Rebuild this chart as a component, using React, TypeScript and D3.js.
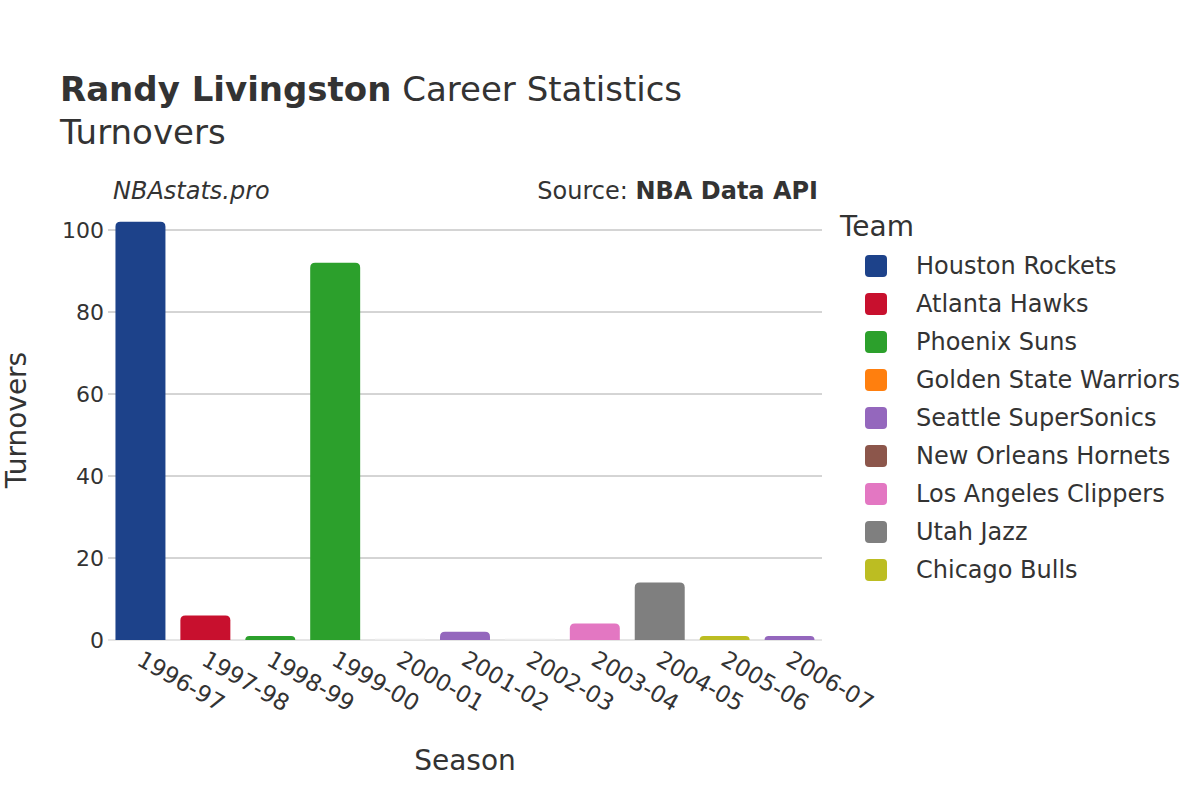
import React from "react";
import * as d3 from "d3";

const seasons = ["1996-97","1997-98","1998-99","1999-00","2000-01","2001-02","2002-03","2003-04","2004-05","2005-06","2006-07"];
const values = [102, 6, 1, 92, 0, 2, 0, 4, 14, 1, 1];
const seasonTeams = ["Houston Rockets","Atlanta Hawks","Phoenix Suns","Phoenix Suns","Golden State Warriors","Seattle SuperSonics","New Orleans Hornets","Los Angeles Clippers","Utah Jazz","Chicago Bulls","Seattle SuperSonics"];
const teams = ["Houston Rockets","Atlanta Hawks","Phoenix Suns","Golden State Warriors","Seattle SuperSonics","New Orleans Hornets","Los Angeles Clippers","Utah Jazz","Chicago Bulls"];
const teamColors = ["#1d428a","#c8102e","#2ca02c","#ff7f0e","#9467bd","#8c564b","#e377c2","#7f7f7f","#bcbd22"];
const yTicks = [0, 20, 40, 60, 80, 100];

const FONT = "'DejaVu Sans', sans-serif";

function barPath(x: number, y: number, w: number, h: number, r: number) {
  const rr = Math.min(r, h, w / 2);
  if (h <= 0) return "";
  return `M${x},${y + h}V${y + rr}Q${x},${y} ${x + rr},${y}H${x + w - rr}Q${x + w},${y} ${x + w},${y + rr}V${y + h}Z`;
}

export default function App() {
  const left = 108, right = 822, top = 230, bottom = 640;
  const x = d3.scaleBand<string>().domain(seasons).range([left, right]).paddingInner(0.23).paddingOuter(0.115);
  const y = d3.scaleLinear().domain([0, 100]).range([bottom, top]);
  const color = d3.scaleOrdinal<string, string>().domain(teams).range(teamColors);

  return (
    <svg width={1200} height={800} style={{ position: "absolute", left: 0, top: 0, background: "#fff" }} fontFamily={FONT}>
      <rect width={1200} height={800} fill="#fff" />
      <text x={60} y={101} fontSize={34} fill="#333">
        <tspan fontWeight="bold">Randy Livingston</tspan> Career Statistics
      </text>
      <text x={60} y={144} fontSize={34} fill="#333">Turnovers</text>
      <text x={113} y={199} fontSize={24} fontStyle="italic" fill="#333">NBAstats.pro</text>
      <text x={818} y={199} fontSize={24} textAnchor="end" fill="#333">
        Source: <tspan fontWeight="bold">NBA Data API</tspan>
      </text>

      {yTicks.map((t) => (
        <g key={t}>
          {t !== 0 && <line x1={left} x2={right} y1={y(t)} y2={y(t)} stroke="#aaaaaa" strokeWidth={1} />}
          <text x={104} y={y(t)} dy="0.35em" textAnchor="end" fontSize={22} fill="#333">{t}</text>
        </g>
      ))}
      <line x1={left} x2={right} y1={bottom} y2={bottom} stroke="#e5e5e5" strokeWidth={2} />

      {seasons.map((s, i) => {
        const bx = x(s)!;
        const by = y(values[i]);
        const h = bottom - by;
        return (
          <g key={s}>
            {values[i] > 0 ? (
              <path d={barPath(bx, by, x.bandwidth(), h, 5)} fill={color(seasonTeams[i])} />
            ) : (
              <line x1={bx} x2={bx + x.bandwidth()} y1={bottom - 1} y2={bottom - 1} stroke="#f4f4f4" strokeWidth={1} />
            )}
          </g>
        );
      })}

      {seasons.map((s) => {
        const cx = x(s)! + x.bandwidth() / 2;
        return (
          <text key={s} transform={`translate(${cx + 3},${650}) rotate(30)`} fontSize={23} fill="#333" dy="0.7em">{s}</text>
        );
      })}

      <text x={465} y={770} fontSize={28} textAnchor="middle" fill="#333">Season</text>
      <text transform={`translate(26,420) rotate(-90)`} fontSize={28} textAnchor="middle" fill="#333">Turnovers</text>

      <text x={840} y={236} fontSize={28} fill="#333">Team</text>
      {teams.map((t, i) => (
        <g key={t} transform={`translate(0,${266 + i * 38})`}>
          <rect x={865} y={-11} width={22} height={22} rx={4} fill={teamColors[i]} />
          <text x={916} y={0} dy="0.35em" fontSize={24} fill="#333">{t}</text>
        </g>
      ))}
    </svg>
  );
}
